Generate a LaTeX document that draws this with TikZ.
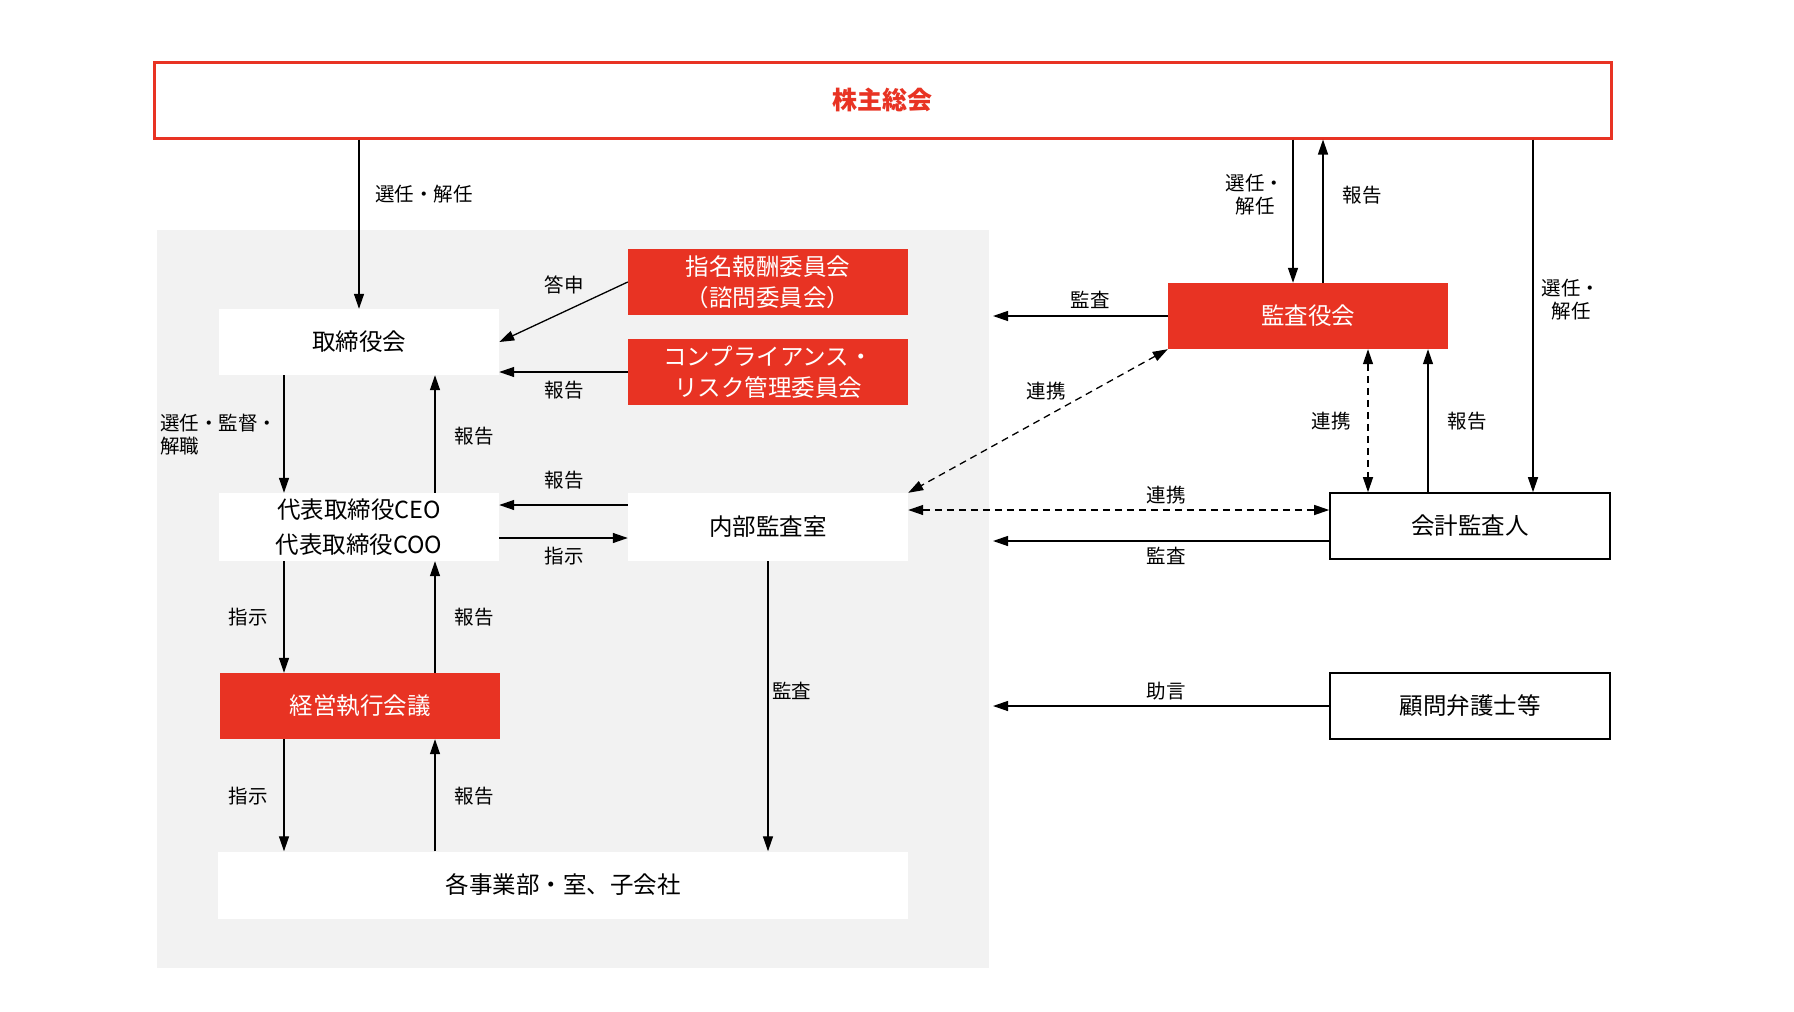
\documentclass[tikz,border=0pt]{standalone}
\usepackage{fontspec}
\setmainfont{Noto Sans CJK JP}
\usetikzlibrary{arrows.meta}
\definecolor{kred}{HTML}{E83323}
\definecolor{kgray}{HTML}{F2F2F2}
\begin{document}
\begin{tikzpicture}[x=1pt,y=-1pt,
    box/.style={minimum width=280pt,minimum height=66pt,inner sep=0pt,align=center,font=\fontsize{23.5}{34.5}\selectfont},
    wbox/.style={box,fill=white},
    rbox/.style={box,fill=kred,text=white,font=\fontsize{23.5}{30.5}\selectfont},
    obox/.style={box,draw=black,line width=1.6pt,fill=white},
    lab/.style={font=\fontsize{19.5}{23}\selectfont,align=center,inner sep=1pt},
    arr/.style={line width=1.3pt,-{Triangle[length=15pt,width=10pt]}},
    darr/.style={line width=1.3pt,dash pattern=on 7pt off 5pt,{Triangle[length=15pt,width=10pt]}-{Triangle[length=15pt,width=10pt]}}]
    \useasboundingbox (0,0) rectangle (1794,1012);
    \node[fill=kgray,minimum width=832pt,minimum height=738pt,inner sep=0pt] (inner) at (573,599) {};
    \node[draw=kred,line width=3pt,fill=white,minimum width=1457pt,minimum height=76pt,text=kred,font=\fontsize{25}{28}\selectfont\bfseries] (soukai) at (882.5,100) {株主総会};
    \node[wbox] (torishimari) at (359,342) {取締役会};
    \node[rbox] (shimei) at (768,282) {指名報酬委員会\\（諮問委員会）};
    \node[rbox] (comp) at (768,372) {コンプライアンス・\\リスク管理委員会};
    \node[wbox,minimum height=68pt] (ceo) at (359,527) {代表取締役CEO\\代表取締役COO};
    \node[wbox,minimum height=68pt] (naibu) at (768,527) {内部監査室};
    \node[rbox] (keiei) at (360,706) {経営執行会議};
    \node[wbox,minimum width=690pt,minimum height=67pt] (jigyo) at (563,885) {各事業部・室、子会社};
    \node[rbox] (kansayaku) at (1308,316) {監査役会};
    \node[obox] (kaikei) at (1470,526) {会計監査人};
    \node[obox] (komon) at (1470,706) {顧問弁護士等};
    \coordinate (dn) at (284,0);
    \coordinate (up) at (435,0);
    \coordinate (ge) at (993,0);
    \coordinate (kd) at (1293,0);
    \coordinate (ku) at (1323,0);
    \coordinate (kr) at (1368,0);
    \coordinate (kh) at (1428,0);
    \coordinate (kk) at (1533,0);
    \draw[arr] (soukai.south -| torishimari) -- (torishimari.north);
    \draw[arr] (shimei.west) -- (torishimari.east);
    \draw[arr] (comp.west) -- (comp.west -| torishimari.east);
    \draw[arr] (torishimari.south -| dn) -- (ceo.north -| dn);
    \draw[arr] (ceo.north -| up) -- (torishimari.south -| up);
    \draw[arr] ([yshift=22pt]naibu.west) -- ([yshift=22pt]naibu.west -| ceo.east);
    \draw[arr] ([yshift=-11pt]ceo.east) -- ([yshift=-11pt]ceo.east -| naibu.west);
    \draw[arr] (ceo.south -| dn) -- (keiei.north -| dn);
    \draw[arr] (keiei.north -| up) -- (ceo.south -| up);
    \draw[arr] (keiei.south -| dn) -- (jigyo.north -| dn);
    \draw[arr] (jigyo.north -| up) -- (keiei.south -| up);
    \draw[arr] (naibu.south) -- (naibu.south |- jigyo.north);
    \draw[arr] (kansayaku.west) -- (kansayaku.west -| ge);
    \draw[arr] (soukai.south -| kd) -- (kansayaku.north -| kd);
    \draw[arr] (kansayaku.north -| ku) -- (soukai.south -| ku);
    \draw[arr] (soukai.south -| kk) -- (kaikei.north -| kk);
    \draw[darr] (kansayaku.south -| kr) -- (kaikei.north -| kr);
    \draw[arr] (kaikei.north -| kh) -- (kansayaku.south -| kh);
    \draw[darr] (kansayaku.south west) -- (naibu.north east);
    \draw[darr] ([yshift=17pt]naibu.east) -- ([yshift=17pt]naibu.east -| kaikei.west);
    \draw[arr] ([yshift=-15pt]kaikei.west) -- ([yshift=-15pt]kaikei.west -| ge);
    \draw[arr] (komon.west) -- (komon.west -| ge);
    \node[lab,anchor=west] (l-sennin) at (374,194) {選任・解任};
    \node[lab] (l-toushin) at (564,285) {答申};
    \node[lab] (l-comp) at (564,390) {報告};
    \node[lab,anchor=west,align=left] (l-kantoku) at (159,435) {選任・監督・\\解職};
    \node[lab] (l-hou1) at (474,436) {報告};
    \node[lab] (l-hou2) at (564,480) {報告};
    \node[lab] (l-shiji1) at (564,556) {指示};
    \node[lab] (l-shiji2) at (248,617) {指示};
    \node[lab] (l-hou3) at (474,617) {報告};
    \node[lab] (l-shiji3) at (248,796) {指示};
    \node[lab] (l-hou4) at (474,796) {報告};
    \node[lab,anchor=west] (l-kansa1) at (771,691) {監査};
    \node[lab] (l-kansa2) at (1090,300) {監査};
    \node[lab] (l-sennin2) at (1255,195) {選任・\\解任};
    \node[lab] (l-hou5) at (1362,195) {報告};
    \node[lab] (l-sennin3) at (1571,300) {選任・\\解任};
    \node[lab] (l-renkei1) at (1046,391) {連携};
    \node[lab] (l-renkei2) at (1166,495) {連携};
    \node[lab] (l-kansa3) at (1166,556) {監査};
    \node[lab] (l-renkei3) at (1331,421) {連携};
    \node[lab] (l-hou6) at (1467,421) {報告};
    \node[lab] (l-jogen) at (1166,691) {助言};
\end{tikzpicture}
\end{document}
